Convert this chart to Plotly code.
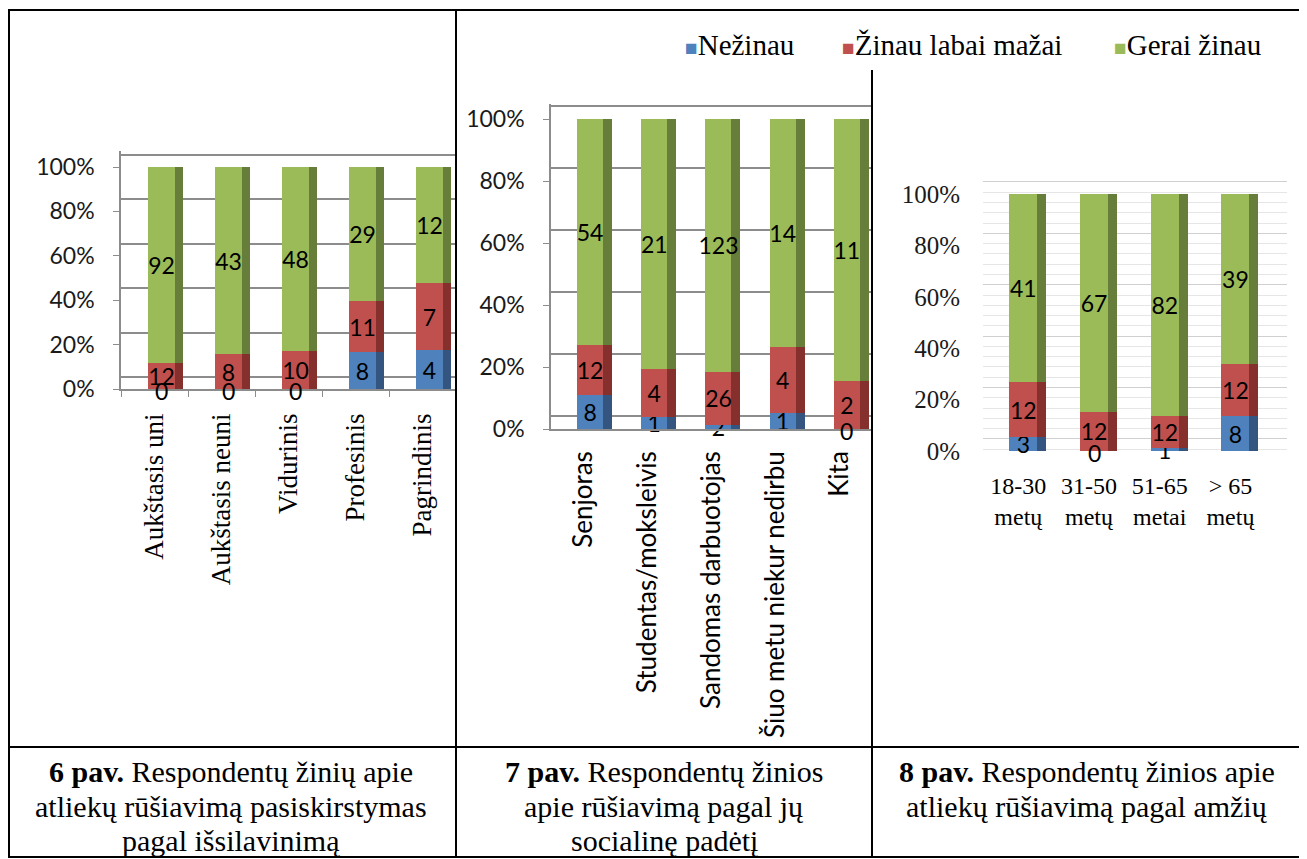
import plotly.graph_objects as go

W, H = 1307, 859
PAD = 8  # page body margin around the figure div
FW, FH = W - PAD, H - PAD
SANS = "Lato, 'Open Sans', sans-serif"
SERIF = "'Liberation Serif', 'Times New Roman', serif"
GRAY = "#8C8C8C"

series = ["Nežinau", "Žinau labai mažai", "Gerai žinau"]
front_colors = ["#4F81BD", "#C0504D", "#9BBB59"]
side_colors = ["#34557F", "#86302E", "#677E3A"]

# 6 pav. - by education
educ = ["Aukštasis uni", "Aukštasis neuni", "Vidurinis", "Profesinis", "Pagrindinis"]
educ_nezinau = [0, 0, 0, 8, 4]
educ_mazai = [12, 8, 10, 11, 7]
educ_gerai = [92, 43, 48, 29, 12]

# 7 pav. - by social status
social = ["Senjoras", "Studentas/moksleivis", "Sandomas darbuotojas",
          "Šiuo metu niekur nedirbu", "Kita"]
social_nezinau = [8, 1, 2, 1, 0]
social_mazai = [12, 4, 26, 4, 2]
social_gerai = [54, 21, 123, 14, 11]

# 8 pav. - by age
age = ["18-30<br>metų", "31-50<br>metų", "51-65<br>metai", "> 65<br>metų"]
age_nezinau = [3, 0, 1, 8]
age_mazai = [12, 12, 12, 12]
age_gerai = [41, 67, 82, 39]

pct_ticks = [0, 20, 40, 60, 80, 100]
pct_labels = ["0%", "20%", "40%", "60%", "80%", "100%"]

captions = [
    ["<b>6 pav.</b> Respondentų žinių apie", "atliekų rūšiavimą pasiskirstymas", "pagal išsilavinimą"],
    ["<b>7 pav.</b> Respondentų žinios", "apie rūšiavimą pagal jų", "socialinę padėtį"],
    ["<b>8 pav.</b> Respondentų žinios apie", "atliekų rūšiavimą pagal amžių"],
]


def px_x(v):
    return (v - PAD) / FW


def px_y(v):
    return 1 - (v - PAD) / FH


# xd: left/right px, yd: px of 0% and 100%, e: extra headroom (units), d: back-wall grid lift (units)
panels = [
    dict(cats=educ, vals=[educ_nezinau, educ_mazai, educ_gerai],
         xd=(121, 456), yd=(389, 167), xr=[-0.5, 4.5], off=-0.097, fw=0.403, sw=0.522, e=7, d=5.4),
    dict(cats=social, vals=[social_nezinau, social_mazai, social_gerai],
         xd=(551, 872), yd=(429, 119), xr=[-0.5, 4.5], off=-0.094, fw=0.405, sw=0.545, e=5, d=4.2),
    dict(cats=age, vals=[age_nezinau, age_mazai, age_gerai],
         xd=(983, 1287), yd=(451, 194), xr=[-0.5, 3.8], off=-0.127, fw=0.396, sw=0.523, e=6, d=4.7),
]

fig = go.Figure()
layout = {}
annotations = []

for i, p in enumerate(panels):
    b, o, g = i + 1, i + 4, i + 7
    bx = "x" if b == 1 else f"x{b}"
    by = "y" if b == 1 else f"y{b}"
    ox, oy = f"x{o}", f"y{o}"
    top = 100 + p["e"]

    # empty carrier so the back-wall grid axis gets drawn
    fig.add_trace(go.Scatter(x=[p["cats"][0]], y=[0], xaxis=bx, yaxis=f"y{g}", mode="none",
                             showlegend=False, hoverinfo="skip"))
    # darker side faces (base subplot)
    for k, vals in enumerate(p["vals"]):
        fig.add_trace(go.Bar(
            x=p["cats"], y=vals, xaxis=bx, yaxis=by,
            marker_color=side_colors[k], marker_line_width=0,
            width=p["sw"], offset=p["off"], showlegend=False, hoverinfo="skip"))
    # front faces with values (overlay subplot)
    for k, vals in enumerate(p["vals"]):
        fig.add_trace(go.Bar(
            x=p["cats"], y=vals, xaxis=ox, yaxis=oy, name=series[k],
            marker_color=front_colors[k], marker_line_width=0,
            width=p["fw"], offset=p["off"],
            text=[str(v) if v else "" for v in vals], textposition="inside",
            textangle=0, constraintext="none", insidetextanchor="middle",
            insidetextfont=dict(family=SANS, size=23, color="black"),
            cliponaxis=False, showlegend=False))

    unit_px = (p["xd"][1] - p["xd"][0]) / (p["xr"][1] - p["xr"][0])
    k_px = (p["yd"][0] - p["yd"][1]) / 100
    # zero-height segments still get their "0" label
    for c, v in zip(p["cats"], p["vals"][0]):
        if v == 0:
            annotations.append(dict(
                x=c, y=0, xref=ox, yref=oy, text="0", showarrow=False,
                xshift=(p["off"] + p["fw"] / 2) * unit_px, yshift=-2,
                font=dict(family=SANS, size=23, color="black")))

    xdom = [px_x(p["xd"][0]), px_x(p["xd"][1])]
    ydom = [px_y(p["yd"][0]), px_y(p["yd"][1] - p["e"] * k_px)]

    xa = dict(domain=xdom, anchor=by, type="category", range=p["xr"], automargin=False,
              categoryorder="array", categoryarray=p["cats"], showgrid=False, zeroline=False)
    ya = dict(domain=ydom, anchor=bx, range=[0, top], tickvals=pct_ticks, ticktext=pct_labels,
              zeroline=False, showgrid=False, automargin=False)
    ga = dict(overlaying=by, anchor=bx, range=[-p["d"], top - p["d"]], tickvals=pct_ticks,
              showticklabels=False, ticks="", showline=False, zeroline=False, automargin=False,
              showgrid=True)

    if i == 0:
        xa.update(showline=True, linecolor=GRAY, linewidth=1.5, ticks="outside", tickson="boundaries",
                  ticklen=6, tickcolor=GRAY, tickangle=-90, ticklabelstandoff=12,
                  tickfont=dict(family=SERIF, size=27, color="black"))
    elif i == 1:
        xa.update(showline=True, linecolor=GRAY, linewidth=1.5, ticks="", tickangle=-90,
                  ticklabelstandoff=10, tickfont=dict(family=SANS, size=26, color="black"))
    else:
        xa.update(showline=False, ticks="", tickangle=0, ticklabelstandoff=18,
                  tickfont=dict(family=SERIF, size=24, color="black"))

    if i < 2:
        ya.update(showline=True, linecolor=GRAY, linewidth=1.5, ticks="outside", ticklen=6,
                  tickcolor=GRAY, ticklabelstandoff=14,
                  tickfont=dict(family=SANS, size=23, color="#1a1a1a"))
        ga.update(gridcolor=GRAY, gridwidth=1.5)
    else:
        ya.update(showline=False, ticks="", ticklabelstandoff=22,
                  tickfont=dict(family=SERIF, size=25, color="#1a1a1a"))
        ga.update(gridcolor="#D0D0D0", gridwidth=1,
                  minor=dict(dtick=4, showgrid=True, gridcolor="#E6E6E6", gridwidth=1))

    layout["xaxis" if b == 1 else f"xaxis{b}"] = xa
    layout["yaxis" if b == 1 else f"yaxis{b}"] = ya
    layout[f"yaxis{g}"] = ga
    layout[f"xaxis{o}"] = dict(overlaying=bx, anchor=oy, type="category", range=p["xr"],
                               categoryorder="array", categoryarray=p["cats"], visible=False,
                               automargin=False)
    layout[f"yaxis{o}"] = dict(overlaying=by, anchor=ox, range=[0, top], visible=False,
                               automargin=False)

fig.update_layout(**layout)

# legend
legend_x = [683, 840, 1112]
for k, name in enumerate(series):
    annotations.append(dict(
        x=px_x(legend_x[k]), y=px_y(45), xref="paper", yref="paper",
        xanchor="left", yanchor="middle", showarrow=False,
        text=f"<span style='color:{front_colors[k]};font-size:21px'>■</span>{name}",
        font=dict(family=SERIF, size=29, color="black")))

# captions
cell_cx = [231.5, 664, 1087]
line_y = [771, 806, 840]
for c, lines in enumerate(captions):
    for j, t in enumerate(lines):
        annotations.append(dict(
            x=px_x(cell_cx[c]), y=px_y(line_y[j]), xref="paper", yref="paper",
            xanchor="center", yanchor="middle", showarrow=False, text=t,
            font=dict(family=SERIF, size=30, color="black")))

# table grid
line = dict(color="black", width=2)
shapes = [
    dict(type="rect", xref="paper", yref="paper", x0=px_x(9), x1=px_x(1302),
         y0=px_y(857), y1=px_y(10), line=line),
    dict(type="line", xref="paper", yref="paper", x0=px_x(456), x1=px_x(456),
         y0=px_y(857), y1=px_y(10), line=line),
    dict(type="line", xref="paper", yref="paper", x0=px_x(872), x1=px_x(872),
         y0=px_y(857), y1=px_y(70), line=line),
    dict(type="line", xref="paper", yref="paper", x0=px_x(9), x1=px_x(1302),
         y0=px_y(747), y1=px_y(747), line=line),
]

fig.update_layout(
    template="none",
    width=FW, height=FH, margin=dict(l=0, r=0, t=0, b=0, pad=0),
    paper_bgcolor="white", plot_bgcolor="rgba(0,0,0,0)",
    barmode="stack", barnorm="percent", showlegend=False,
    annotations=annotations, shapes=shapes,
    font=dict(family=SERIF, color="black"),
)

fig.write_html("out.html")
